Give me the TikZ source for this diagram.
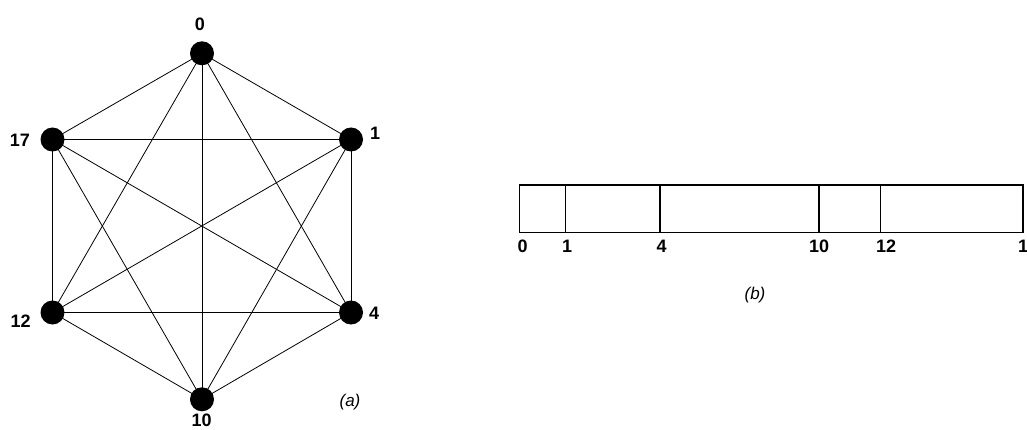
\documentclass[tikz,border=0pt]{standalone}
\usepackage{fontspec}
\setmainfont{Liberation Sans}
\begin{document}
\begin{tikzpicture}[x=1pt,y=-1pt]
  \tikzset{
    vertex/.style={circle, fill=black, inner sep=0pt, minimum size=24pt},
    num/.style={font=\bfseries\fontsize{18}{18}\selectfont, inner sep=0pt},
    captext/.style={font=\itshape\fontsize{17}{17}\selectfont, inner sep=0pt},
    edge/.style={line width=0.8pt},
  }
  \useasboundingbox (0,0) rectangle (1027,430);

  % Complete graph (a)
  \node[vertex] (v0)  at (202,53.3)  {};
  \node[vertex] (v1)  at (351,139.5) {};
  \node[vertex] (v4)  at (351,312.5) {};
  \node[vertex] (v10) at (202,399.3) {};
  \node[vertex] (v12) at (52.5,312.5) {};
  \node[vertex] (v17) at (52.5,139.5) {};
  \foreach \a/\b in {v0/v1, v0/v4, v0/v10, v0/v12, v0/v17,
                     v1/v4, v1/v10, v1/v12, v1/v17,
                     v4/v10, v4/v12, v4/v17,
                     v10/v12, v10/v17, v12/v17}
    \draw[edge] (\a.center) -- (\b.center);
  \node[num] (l0)  at (200,24)    {0};
  \node[num] (l1)  at (375,133)   {1};
  \node[num] (l4)  at (374,313)   {4};
  \node[num] (l10) at (201.7,420) {10};
  \node[num] (l12) at (20.7,321)  {12};
  \node[num] (l17) at (20,140)    {17};
  \node[captext] (capa) at (350,401.7) {(a)};

  % Interval bar (b)
  \draw[line width=1.2pt] (519.3,185) rectangle (1023,232.3);
  \foreach \x in {565.7, 660, 819, 880.7}
    \draw[line width=1.2pt] (\x,185) -- (\x,232.3);
  \foreach \x/\t in {522.7/0, 567/1, 661.7/4, 819/10, 886/12, 1028/17}
    \node[num] (b\t) at (\x,246) {\t};
  \node[captext] (capb) at (755,295) {(b)};
\end{tikzpicture}
\end{document}
